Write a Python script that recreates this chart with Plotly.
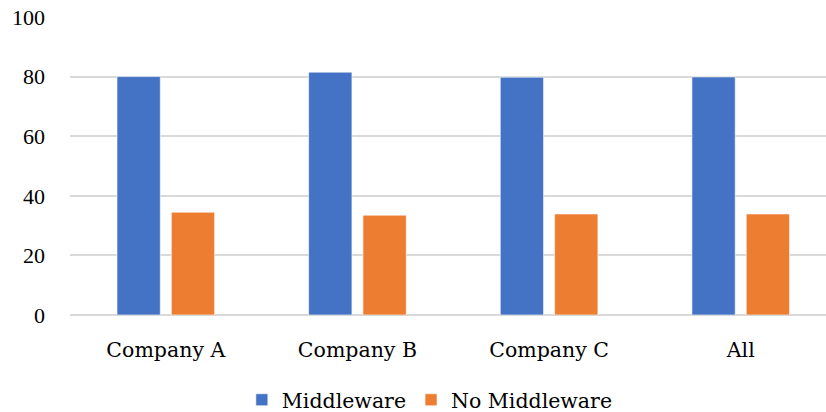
import plotly.graph_objects as go

categories = ["Company A", "Company B", "Company C", "All"]
middleware = [80.0, 81.5, 79.8, 79.9]
no_middleware = [34.5, 33.5, 33.9, 33.9]
y_ticks = [0, 20, 40, 60, 80, 100]

BLUE = "#4472C4"
ORANGE = "#ED7D31"
FONT_X = "DejaVu Serif"
FONT_Y = "Liberation Serif"

fig = go.Figure()
fig.add_trace(go.Bar(x=categories, y=middleware, name="Middleware",
                     marker=dict(color=BLUE, line=dict(color="rgba(255,255,255,0.6)", width=1))))
fig.add_trace(go.Bar(x=categories, y=no_middleware, name="No Middleware",
                     marker=dict(color=ORANGE, line=dict(color="rgba(255,255,255,0.6)", width=1))))

fig.update_layout(
    width=826, height=412,
    margin=dict(l=70, r=0, t=17, b=97, autoexpand=False),
    plot_bgcolor="white", paper_bgcolor="white",
    barmode="group", bargap=0.433, bargroupgap=0.203,
    showlegend=True,
    legend=dict(orientation="h", x=0.476, xanchor="center", y=-0.285, yanchor="middle",
                font=dict(family=FONT_X, size=20.5, color="#000000"),
                itemwidth=30, traceorder="normal"),
    xaxis=dict(range=[-0.5, 3.445], showgrid=False, showline=False, zeroline=False,
               ticks="", ticklabelstandoff=20, automargin=False,
               tickfont=dict(family=FONT_X, size=20.5, color="#000000")),
    yaxis=dict(range=[0, 100], tickvals=y_ticks, showgrid=True, gridcolor="#D9D9D9", gridwidth=1.5,
               zeroline=True, zerolinecolor="#D9D9D9", zerolinewidth=1.5, showline=False,
               ticks="", ticklabelstandoff=24, automargin=False,
               tickfont=dict(family=FONT_Y, size=22, color="#000000")),
)

fig.write_html("out.html")
